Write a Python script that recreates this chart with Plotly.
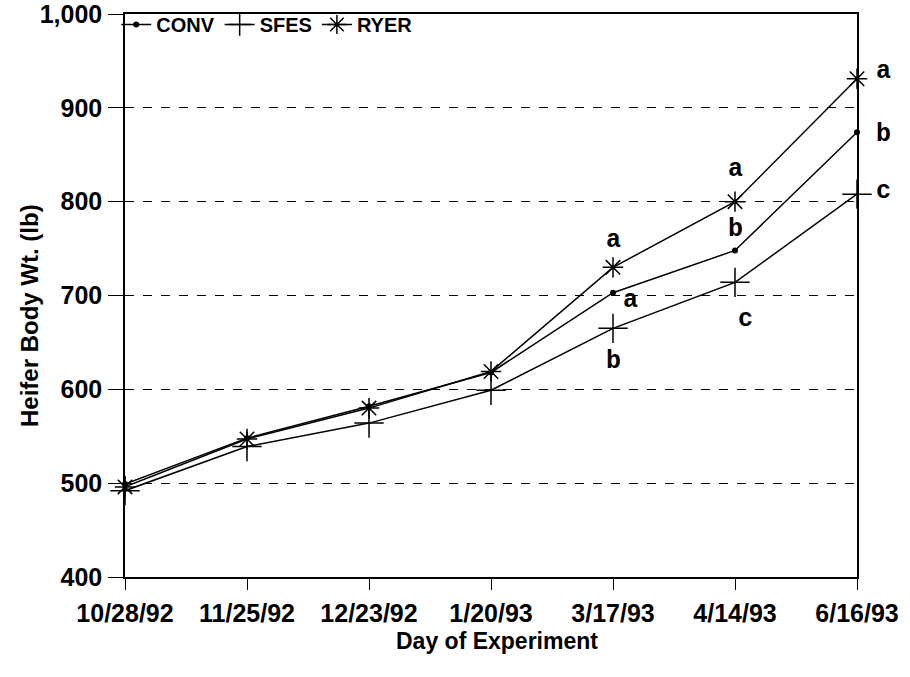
import plotly.graph_objects as go

dates = ["10/28/92", "11/25/92", "12/23/92", "1/20/93", "3/17/93", "4/14/93", "6/16/93"]
conv = [499, 548, 582, 618, 703, 748, 874]
sfes = [492, 539, 564, 599, 665, 714, 808]
ryer = [496, 547, 580, 619, 730, 800, 931]

# significance letters: (date index, series, letter, xshift, yshift)
letters_date = [4, 4, 4, 5, 5, 5, 6, 6, 6]
letters_series = ["RYER", "CONV", "SFES", "RYER", "RYER", "SFES", "RYER", "CONV", "SFES"]
letters_text = ["a", "a", "b", "a", "b", "c", "a", "b", "c"]
letters_dx = [0, 17, 0, 0, 0, 10, 26, 26, 26]
letters_dy = [27, -8, -33, 32, -28, -37, 7, -2, 3]

series = {"CONV": conv, "SFES": sfes, "RYER": ryer}
bold = "Liberation Sans"

fig = go.Figure()
fig.add_trace(go.Scatter(x=dates, y=conv, name="CONV", mode="lines+markers",
                         line=dict(color="black", width=1.5),
                         marker=dict(symbol="circle", size=6, color="black"),
                         cliponaxis=False))
fig.add_trace(go.Scatter(x=dates, y=sfes, name="SFES", mode="lines+markers",
                         line=dict(color="black", width=1.5),
                         marker=dict(symbol="cross-thin", size=21, color="black",
                                     line=dict(color="black", width=1.5)),
                         cliponaxis=False))
fig.add_trace(go.Scatter(x=dates, y=ryer, name="RYER", mode="lines+markers",
                         line=dict(color="black", width=1.5),
                         marker=dict(symbol="asterisk", size=17, color="black",
                                     line=dict(color="black", width=1.5)),
                         cliponaxis=False))

for i, s, t, dx, dy in zip(letters_date, letters_series, letters_text, letters_dx, letters_dy):
    fig.add_annotation(x=dates[i], y=series[s][i], text=t, showarrow=False,
                       xshift=dx, yshift=dy,
                       font=dict(family="Liberation Mono", size=25, weight="bold", color="black"))

# axis titles as annotations for precise placement
fig.add_annotation(xref="paper", yref="paper", x=0.5, y=0, yanchor="middle",
                   xshift=6, yshift=-64, showarrow=False, text="Day of Experiment",
                   font=dict(family=bold, size=23, weight="bold", color="black"))
fig.add_annotation(xref="paper", yref="paper", x=0, y=0.4636, xanchor="center", yanchor="middle",
                   xshift=-95, showarrow=False, text="Heifer Body Wt. (lb)", textangle=-90,
                   font=dict(family=bold, size=24, weight="bold", color="black"))

fig.update_layout(
    width=910, height=677,
    margin=dict(l=125, r=53, t=14, b=100, autoexpand=False),
    paper_bgcolor="white", plot_bgcolor="white",
    font=dict(family=bold, size=22, color="black"),
    showlegend=True,
    legend=dict(x=-0.012, y=1.016, xanchor="left", yanchor="top", orientation="h",
                bgcolor="rgba(0,0,0,0)", font=dict(family=bold, size=20, weight="bold"),
                itemwidth=30, tracegroupgap=0),
)
fig.update_xaxes(
    type="category", range=[0, 6], showgrid=False, automargin=False,
    showline=True, linecolor="black", linewidth=1.5, mirror=True,
    ticks="outside", ticklen=11, tickcolor="black", ticklabelstandoff=2,
    ticklabeloverflow="allow",
    tickfont=dict(family=bold, size=25, weight="bold"),
)
fig.update_yaxes(
    range=[400, 1000], dtick=100, tickformat=",", automargin=False,
    showgrid=True, gridcolor="black", griddash="dash", gridwidth=1,
    showline=True, linecolor="black", linewidth=1.5, mirror=True,
    ticks="outside", ticklen=15, tickcolor="black", ticklabelstandoff=1,
    ticklabeloverflow="allow",
    tickfont=dict(family=bold, size=25, weight="bold"),
    zeroline=False,
)

fig.write_html("out.html", config={"displayModeBar": False},
               post_script="document.body.style.margin='0';")
